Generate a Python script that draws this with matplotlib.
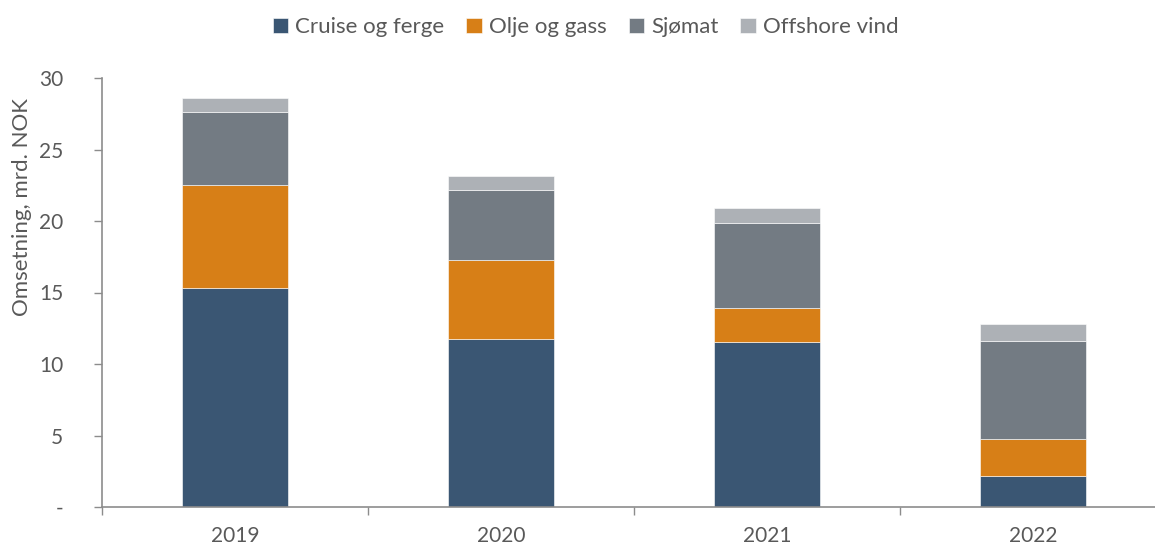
import matplotlib
matplotlib.use("Agg")
import matplotlib.pyplot as plt
import numpy as np

# Data (mrd. NOK)
years = ["2019", "2020", "2021", "2022"]
cruise = [15.3, 11.75, 11.55, 2.17]
olje = [7.2, 5.55, 2.35, 2.58]
sjomat = [5.1, 4.9, 5.95, 6.85]
offshore = [1.0, 0.95, 1.05, 1.2]

series_names = ["Cruise og ferge", "Olje og gass", "Sjømat", "Offshore vind"]
colors = ["#3A5673", "#D77F17", "#737B83", "#ADB1B6"]

plt.rcParams['font.family'] = ['Lato', 'DejaVu Sans']
text_color = "#595959"
axis_color = "#8C8C8C"

fig = plt.figure(figsize=(11.55, 5.47), dpi=100)
ax = fig.add_axes([102 / 1155, (547 - 507) / 547, (1166 - 102) / 1155, (507 - 78) / 547])

x = np.arange(len(years))
bottom = np.zeros(len(years))
for vals, name, col in zip([cruise, olje, sjomat, offshore], series_names, colors):
    ax.bar(x, vals, width=0.4, bottom=bottom, color=col, label=name,
           edgecolor="white", linewidth=0.4)
    bottom += np.array(vals)

ax.set_xlim(-0.5, 3.5)
ax.set_ylim(0, 30)
ax.set_yticks([0, 5, 10, 15, 20, 25, 30])
ax.set_yticklabels(["-", "5", "10", "15", "20", "25", "30"])
ax.set_xticks(x)
ax.set_xticklabels(years)
ax.set_xticks(np.arange(-0.5, 4.0, 1.0), minor=True)
ax.tick_params(axis='x', which='major', length=0, pad=14, labelsize=15, colors=text_color)
ax.tick_params(axis='x', which='minor', length=6, color=axis_color, width=1)
ax.tick_params(axis='y', length=6, color=axis_color, width=1, labelsize=15,
               colors=text_color, pad=22)
for lab in ax.get_yticklabels():
    lab.set_horizontalalignment('right')

for s in ["top", "right"]:
    ax.spines[s].set_visible(False)
for s in ["left", "bottom"]:
    ax.spines[s].set_color(axis_color)
    ax.spines[s].set_linewidth(1.2)

ax.set_ylabel("Omsetning, mrd. NOK", fontsize=16, color=text_color)
ax.yaxis.set_label_coords(-0.066, 0.70)

handles, labels = ax.get_legend_handles_labels()
fig.legend(handles, labels, loc="upper center", bbox_to_anchor=(0.507, 1.005), ncol=4,
           frameon=False, fontsize=16, labelcolor=text_color, handlelength=0.7,
           handleheight=0.7, handletextpad=0.3, columnspacing=1.0)

fig.savefig("out.png", dpi=100)
